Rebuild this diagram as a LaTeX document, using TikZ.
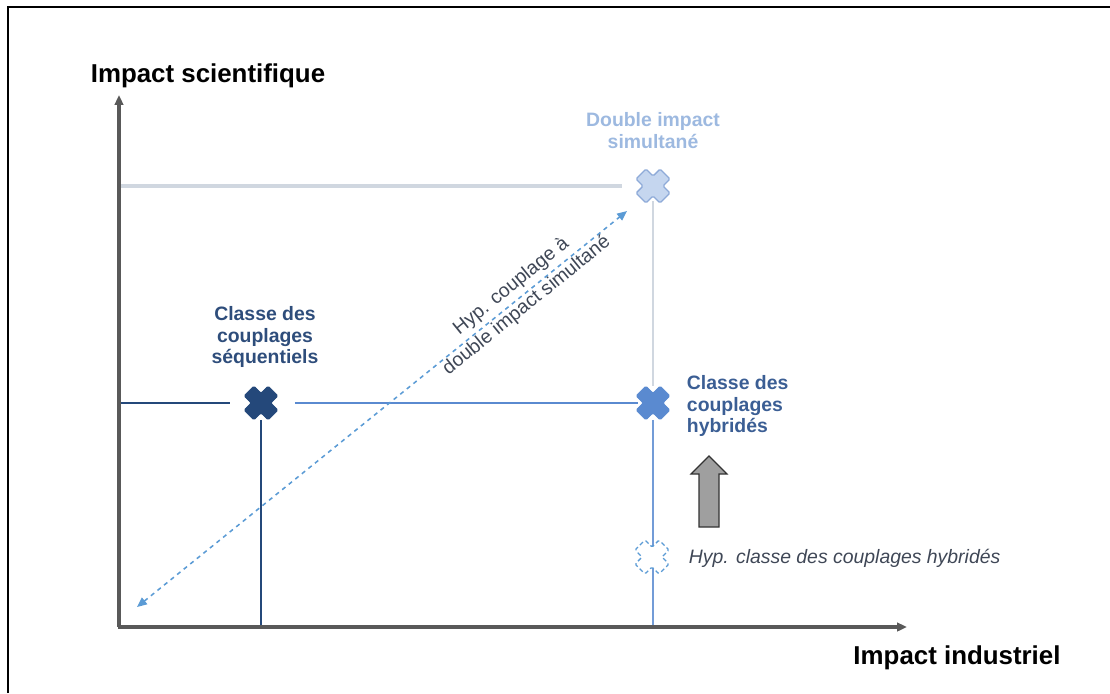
\documentclass[tikz,border=0pt]{standalone}
\usepackage{fontspec}
\setmainfont{Liberation Sans}
\usetikzlibrary{arrows.meta}
\definecolor{axegris}{HTML}{595959}
\definecolor{seqbleu}{HTML}{24487A}
\definecolor{hybbleu}{HTML}{5A8AD0}
\definecolor{ligneclaire}{HTML}{D0D7E0}
\definecolor{dblfond}{HTML}{C5D6EF}
\definecolor{dbltrait}{HTML}{8EAAD8}
\definecolor{hyptrait}{HTML}{5B9BD5}
\definecolor{texteseq}{HTML}{2E4D7B}
\definecolor{textehyb}{HTML}{3B5E94}
\definecolor{textedbl}{HTML}{9DB9E0}
\definecolor{textehyp}{HTML}{3F4756}
\tikzset{
  croix/.pic={
    \path[pic actions, rotate=45, rounded corners=1pt]
      (7,7) -- (17,7) -- (17,-7) -- (7,-7) -- (7,-17) -- (-7,-17) -- (-7,-7)
      -- (-17,-7) -- (-17,7) -- (-7,7) -- (-7,17) -- (7,17) -- cycle;
  },
  axe/.style={draw=axegris, line width=2.4pt, -{Triangle[length=7pt,width=6pt]}},
  etiq/.style={font=\fontsize{13.8}{15.6}\selectfont\bfseries, align=center},
}
\begin{document}
\begin{tikzpicture}[x=0.025cm, y=-0.025cm]
  \useasboundingbox (0,0) rectangle (1110,693);
  % cadre
  \draw[line width=2pt] (8,693) -- (8,7) -- (1110,7);
  % points
  \coordinate (O) at (119,627);
  \coordinate (ytop) at (119,95);
  \coordinate (xend) at (907,627);
  \coordinate (seq) at (261,403);
  \coordinate (hyb) at (653,403);
  \coordinate (dbl) at (653,186);
  \coordinate (hyp) at (652,557);
  \coordinate (ys) at (119,403);
  \coordinate (yd) at (119,186);
  \coordinate (xs) at (261,627);
  \coordinate (xh) at (653,627);
  \coordinate (diagA) at (137,607);
  \coordinate (diagB) at (627,211);
  % lignes de report
  \draw[ligneclaire, line width=2.6pt, shorten >=22pt] (yd) -- (dbl);
  \draw[ligneclaire, line width=1.6pt, shorten <=11pt, shorten >=12pt] (dbl) -- (hyb);
  \draw[seqbleu, line width=1.1pt, shorten >=22pt] (ys) -- (seq);
  \draw[hybbleu, line width=1.1pt, shorten <=24pt, shorten >=11pt] (seq) -- (hyb);
  \draw[seqbleu, line width=1.1pt, shorten <=12pt] (seq) -- (xs);
  \draw[hybbleu!85, line width=1.1pt, shorten <=12pt] (hyb) -- (xh);
  % axes
  \draw[axe] (O) -- (ytop);
  \draw[axe] ([xshift=-1pt]O) -- (xend);
  \node[font=\fontsize{18.4}{20}\selectfont\bfseries] (ysci) at (208,76) {Impact scientifique};
  \node[font=\fontsize{18.4}{20}\selectfont\bfseries] (xind) at (957,658) {Impact industriel};
  % croix
  \pic[fill=dblfond, draw=dbltrait, line width=0.9pt] at (dbl) {croix};
  \pic[fill=seqbleu, draw=seqbleu, line width=0.5pt] at (seq) {croix};
  \pic[fill=hybbleu, draw=hybbleu, line width=0.5pt] at (hyb) {croix};
  \pic[fill=white, draw=hyptrait, line width=0.9pt, densely dashed] at (hyp) {croix};
  % hypothese diagonale
  \draw[hyptrait, line width=1.1pt, dashed, {Triangle[length=7pt,width=6pt]}-{Triangle[length=7pt,width=6pt]}] (diagA) -- (diagB);
  \node[font=\fontsize{13.8}{17.5}\selectfont, text=textehyp, align=center, rotate=39] (diagtxt) at (519,296)
    {Hyp. couplage à\\double impact simultané};
  % etiquettes
  \node[etiq, text=texteseq] (seqtxt) at (265,337) {Classe des\\couplages\\séquentiels};
  \node[etiq, text=textedbl] (dbltxt) at (653,131) {Double impact\\simultané};
  \node[etiq, text=textehyb, align=left, anchor=west] (hybtxt) at (682,406) {Classe des\\couplages\\hybridés};
  \node[font=\fontsize{13.8}{15.6}\selectfont\itshape, text=textehyp, anchor=west] (hyptxt) at (684,558)
    {Hyp. classe des couplages hybridés};
  % fleche grise
  \draw[fill=gray!75, draw=black!80, line width=0.8pt] (699,527) -- (699,474) -- (691,474) -- (709,456)
    -- (727,474) -- (719,474) -- (719,527) -- cycle;
\end{tikzpicture}
\end{document}
